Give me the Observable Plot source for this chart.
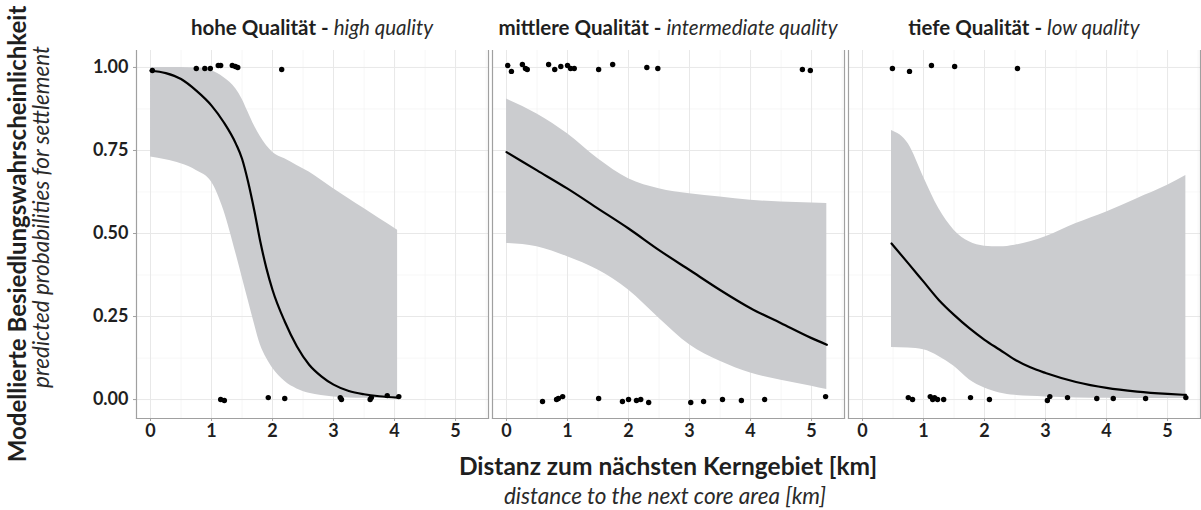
<!DOCTYPE html>
<html><head><meta charset="utf-8">
<script src="https://cdn.jsdelivr.net/npm/d3@7"></script>
<script src="https://cdn.jsdelivr.net/npm/@observablehq/plot@0.6"></script>
<style>
body{margin:0;background:#fff;}
#chart svg{display:block}
</style></head><body><div id="chart"></div>
<script>
// ---- data ----
const panels = ["hoch", "mittel", "tief"];
const titleDe = ["hohe Qualität - ", "mittlere Qualität - ", "tiefe Qualität - "];
const titleEn = ["high quality", "intermediate quality", "low quality"];

const xTicks = [0, 1, 2, 3, 4, 5];
const xMinor = [0.5, 1.5, 2.5, 3.5, 4.5, 5.5];
const yTicks = [0, 0.25, 0.5, 0.75, 1];
const yMinor = [0.125, 0.375, 0.625, 0.875];

// fitted curve and confidence band, per panel
const fitX_hoch = [0, 0.25, 0.5, 0.75, 1.0, 1.2, 1.4, 1.5, 1.6, 1.7, 1.8, 1.9, 2.0, 2.2, 2.4, 2.6, 2.8, 3.0, 3.25, 3.5, 3.75, 4.05];
const fit_hoch  = [0.99, 0.983, 0.965, 0.93, 0.885, 0.835, 0.77, 0.725, 0.655, 0.57, 0.475, 0.395, 0.33, 0.235, 0.16, 0.105, 0.07, 0.045, 0.026, 0.016, 0.010, 0.006];
const lo_hoch   = [0.73, 0.722, 0.71, 0.69, 0.655, 0.57, 0.44, 0.37, 0.30, 0.23, 0.165, 0.125, 0.095, 0.055, 0.032, 0.019, 0.012, 0.008, 0.005, 0.004, 0.003, 0.003];
const hi_hoch   = [1.0, 1.0, 1.0, 0.998, 0.99, 0.97, 0.935, 0.905, 0.865, 0.825, 0.792, 0.765, 0.745, 0.725, 0.705, 0.685, 0.66, 0.635, 0.605, 0.575, 0.545, 0.51];

const fitX_mittel = [0, 0.5, 1.0, 1.5, 2.0, 2.5, 3.0, 3.5, 4.0, 4.5, 5.0, 5.25];
const fit_mittel  = [0.745, 0.69, 0.635, 0.575, 0.515, 0.45, 0.39, 0.33, 0.275, 0.23, 0.185, 0.165];
const lo_mittel   = [0.47, 0.46, 0.43, 0.39, 0.33, 0.245, 0.165, 0.115, 0.08, 0.058, 0.04, 0.03];
const hi_mittel   = [0.905, 0.86, 0.80, 0.725, 0.665, 0.635, 0.62, 0.61, 0.60, 0.595, 0.592, 0.59];

const fitX_tief = [0.475, 0.75, 1.0, 1.25, 1.5, 1.75, 2.0, 2.25, 2.5, 2.75, 3.0, 3.5, 4.0, 4.5, 5.0, 5.3];
const fit_tief  = [0.47, 0.41, 0.355, 0.30, 0.255, 0.215, 0.18, 0.15, 0.12, 0.097, 0.08, 0.053, 0.035, 0.024, 0.017, 0.014];
const lo_tief   = [0.157, 0.155, 0.15, 0.13, 0.10, 0.06, 0.035, 0.02, 0.013, 0.01, 0.008, 0.005, 0.004, 0.003, 0.003, 0.003];
const hi_tief   = [0.81, 0.77, 0.67, 0.575, 0.51, 0.475, 0.462, 0.46, 0.465, 0.475, 0.49, 0.53, 0.565, 0.605, 0.645, 0.675];

// observations (jittered 0/1)
const obsX_hoch = [0.03, 0.75, 0.89, 0.98, 1.11, 1.15, 1.34, 1.39, 1.43, 2.15,
                   1.15, 1.21, 1.93, 2.2, 3.11, 3.13, 3.6, 3.62, 3.88, 4.07];
const obsY_hoch = [0.991, 0.997, 0.997, 0.997, 1.006, 1.006, 1.006, 1.003, 1.0, 0.994,
                   0.0, -0.003, 0.006, 0.003, 0.006, 0.0, 0.0, 0.006, 0.012, 0.009];

const obsX_mittel = [0.02, 0.08, 0.26, 0.31, 0.34, 0.69, 0.79, 0.89, 1.0, 1.05, 1.11, 1.51, 1.74, 2.3, 2.48, 4.85, 4.98,
                     0.59, 0.82, 0.85, 0.92, 1.51, 1.9, 2.0, 2.13, 2.2, 2.33, 3.02, 3.23, 3.54, 3.85, 4.23, 5.23];
const obsY_mittel = [1.006, 0.988, 1.009, 0.997, 0.994, 1.009, 0.994, 1.003, 1.006, 0.997, 0.997, 0.994, 1.009, 1.0, 0.997, 0.994, 0.991,
                     -0.006, 0.0, 0.003, 0.009, 0.003, -0.006, 0.0, -0.003, 0.0, -0.009, -0.009, -0.006, 0.0, -0.003, 0.0, 0.009];

const obsX_tief = [0.49, 0.77, 1.13, 1.51, 2.54,
                   0.75, 0.82, 1.11, 1.15, 1.18, 1.23, 1.33, 1.77, 2.08, 3.03, 3.07, 3.36, 3.84, 4.11, 4.64, 5.3];
const obsY_tief = [0.997, 0.988, 1.006, 1.003, 0.997,
                   0.006, 0.0, 0.009, 0.0, 0.006, 0.0, 0.0, 0.006, 0.0, -0.003, 0.009, 0.006, 0.003, 0.003, 0.003, 0.006];

// ---- build tables ----
const curveSets = [
  [fitX_hoch, fit_hoch, lo_hoch, hi_hoch],
  [fitX_mittel, fit_mittel, lo_mittel, hi_mittel],
  [fitX_tief, fit_tief, lo_tief, hi_tief]
];
const obsSets = [[obsX_hoch, obsY_hoch], [obsX_mittel, obsY_mittel], [obsX_tief, obsY_tief]];

const curves = panels.flatMap((p, i) => curveSets[i][0].map((x, j) => ({
  panel: p, x, fit: curveSets[i][1][j], lo: curveSets[i][2][j], hi: curveSets[i][3][j]
})));
const obs = panels.flatMap((p, i) => obsSets[i][0].map((x, j) => ({panel: p, x, y: obsSets[i][1][j]})));

const FONT = "Lato, 'Open Sans', sans-serif";
const TXT = "#1f1f1f";
const BORDER = "#a0a0a0";

const chart = Plot.plot({
  width: 1201, height: 510,
  marginLeft: 136, marginRight: 1, marginTop: 50, marginBottom: 92,
  style: {fontFamily: FONT, background: "#fff", color: TXT},
  fx: {domain: panels, paddingInner: 4 / 356, paddingOuter: 0, label: null, axis: null},
  x: {domain: [-0.23, 5.54]},
  y: {domain: [-0.057, 1.051]},
  marks: [
    Plot.gridX({ticks: xMinor, stroke: "#f3f3f3", strokeOpacity: 1, strokeWidth: 0.7}),
    Plot.gridY({ticks: yMinor, stroke: "#f3f3f3", strokeOpacity: 1, strokeWidth: 0.7}),
    Plot.gridX({ticks: xTicks, stroke: "#e8e8e8", strokeOpacity: 1, strokeWidth: 1}),
    Plot.gridY({ticks: yTicks, stroke: "#e8e8e8", strokeOpacity: 1, strokeWidth: 1}),
    Plot.areaY(curves, {fx: "panel", x: "x", y1: "lo", y2: "hi", fill: "#cbcccf", curve: "monotone-x"}),
    Plot.line(curves, {fx: "panel", x: "x", y: "fit", stroke: "#000", strokeWidth: 2.2, curve: "monotone-x"}),
    Plot.dot(obs, {fx: "panel", x: "x", y: "y", r: 2.7, fill: "#000", stroke: "none"}),
    Plot.frame({anchor: "left", stroke: BORDER, strokeWidth: 1.2}),
    Plot.frame({anchor: "right", stroke: BORDER, strokeWidth: 1.2}),
    Plot.frame({anchor: "bottom", stroke: BORDER, strokeWidth: 1.2}),
    Plot.axisX({ticks: xTicks, tickSize: 3, tickPadding: 3, stroke: BORDER, fill: TXT,
                label: null, tickFormat: d3.format("d")}),
    Plot.axisY({ticks: yTicks, tickSize: 3, tickPadding: 5, stroke: BORDER, fill: TXT,
                label: null, tickFormat: d3.format(".2f")})
  ]
});
document.getElementById("chart").appendChild(chart);

const svg = d3.select(chart);
// tick label styling
svg.selectAll('g[aria-label="x-axis tick label"], g[aria-label="y-axis tick label"]')
  .style("font-size", "18px").style("font-weight", "bold").style("font-family", FONT);

// panel titles, centred on each facet band of the fx scale
const fx = chart.scale("fx");
panels.forEach((p, i) => {
  const cx = fx.apply(p) + fx.bandwidth / 2;
  const t = svg.append("text").attr("x", cx).attr("y", 35).attr("text-anchor", "middle")
    .attr("fill", TXT).style("font-size", "20.5px").style("font-family", FONT);
  t.append("tspan").style("font-weight", "bold").text(titleDe[i]);
  t.append("tspan").style("font-style", "italic").style("font-weight", "400").attr("fill", "#2a2a2a").text(titleEn[i]);
});

// axis titles
const xc = 136 + (1201 - 136 - 1) / 2;
svg.append("text").attr("x", xc).attr("y", 475).attr("text-anchor", "middle")
  .attr("fill", TXT).style("font-size", "24.5px").style("font-weight", "bold")
  .text("Distanz zum nächsten Kerngebiet [km]");
svg.append("text").attr("x", xc - 3).attr("y", 504).attr("text-anchor", "middle")
  .attr("fill", "#2a2a2a").style("font-size", "22.5px").style("font-style", "italic").style("font-weight", "400")
  .text("distance to the next core area [km]");
svg.append("text").attr("transform", "translate(26,234) rotate(-90)").attr("text-anchor", "middle")
  .attr("fill", TXT).style("font-size", "24px").style("font-weight", "bold")
  .text("Modellierte Besiedlungswahrscheinlichkeit");
svg.append("text").attr("transform", "translate(49,217) rotate(-90)").attr("text-anchor", "middle")
  .attr("fill", "#2a2a2a").style("font-size", "22.5px").style("font-style", "italic").style("font-weight", "400")
  .text("predicted probabilities for settlement");
</script></body></html>
